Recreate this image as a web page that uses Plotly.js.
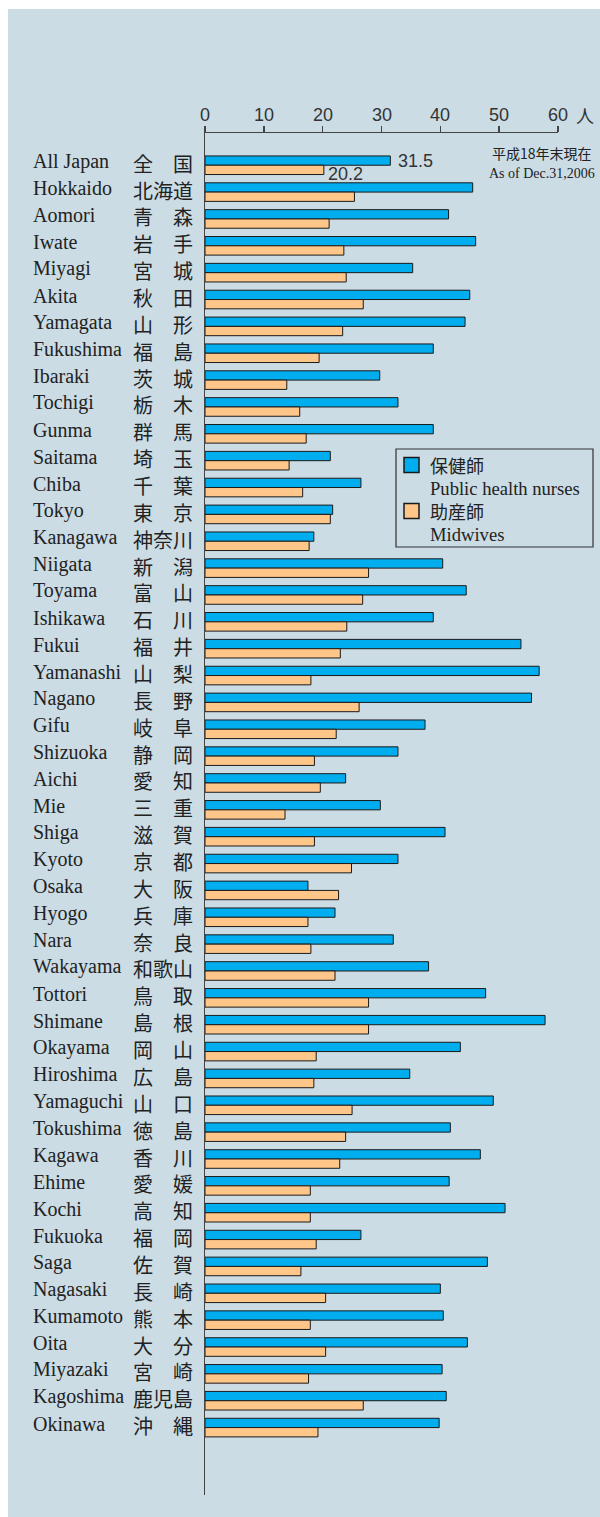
<!DOCTYPE html>
<html>
<head>
<meta charset="utf-8">
<script src="https://cdn.plot.ly/plotly-3.0.1.min.js"></script>
<style>
body { margin: 0; background: #fff; }
#chart { width: 600px; height: 1517px; }
</style>
</head>
<body>
<div id="chart"></div>
<script>
var prefEn = ['All Japan', 'Hokkaido', 'Aomori', 'Iwate', 'Miyagi', 'Akita', 'Yamagata', 'Fukushima',
    'Ibaraki', 'Tochigi', 'Gunma', 'Saitama', 'Chiba', 'Tokyo', 'Kanagawa', 'Niigata', 'Toyama',
    'Ishikawa', 'Fukui', 'Yamanashi', 'Nagano', 'Gifu', 'Shizuoka', 'Aichi', 'Mie', 'Shiga', 'Kyoto',
    'Osaka', 'Hyogo', 'Nara', 'Wakayama', 'Tottori', 'Shimane', 'Okayama', 'Hiroshima', 'Yamaguchi',
    'Tokushima', 'Kagawa', 'Ehime', 'Kochi', 'Fukuoka', 'Saga', 'Nagasaki', 'Kumamoto', 'Oita',
    'Miyazaki', 'Kagoshima', 'Okinawa']
var prefJa = ['全国', '北海道', '青森', '岩手', '宮城', '秋田', '山形', '福島', '茨城', '栃木', '群馬',
    '埼玉', '千葉', '東京', '神奈川', '新潟', '富山', '石川', '福井', '山梨', '長野', '岐阜', '静岡',
    '愛知', '三重', '滋賀', '京都', '大阪', '兵庫', '奈良', '和歌山', '鳥取', '島根', '岡山', '広島',
    '山口', '徳島', '香川', '愛媛', '高知', '福岡', '佐賀', '長崎', '熊本', '大分', '宮崎', '鹿児島', '沖縄']

// 保健師 (public health nurses), per 100,000 population
var nurses = [31.5, 45.5, 41.4, 46.0, 35.3, 45.0, 44.2, 38.8, 29.7, 32.8, 38.8,
    21.3, 26.5, 21.7, 18.5, 40.4, 44.4, 38.8, 53.7, 56.8, 55.5, 37.4,
    32.8, 23.9, 29.8, 40.8, 32.8, 17.5, 22.1, 32.0, 38.0, 47.7, 57.8,
    43.4, 34.8, 49.0, 41.7, 46.8, 41.5, 51.0, 26.5, 48.0, 40.0, 40.5,
    44.6, 40.3, 41.0, 39.8]
// 助産師 (midwives)
var midwives = [20.2, 25.4, 21.1, 23.6, 24.0, 26.9, 23.4, 19.4, 13.9, 16.1, 17.2,
    14.3, 16.6, 21.3, 17.7, 27.8, 26.8, 24.1, 23.0, 18.0, 26.2, 22.3,
    18.6, 19.6, 13.6, 18.6, 24.9, 22.7, 17.5, 18.0, 22.1, 27.8, 27.8,
    18.9, 18.5, 25.0, 23.9, 22.9, 17.9, 17.9, 18.9, 16.3, 20.5, 17.9,
    20.5, 17.6, 26.9, 19.2]
var xTicks = [0, 10, 20, 30, 40, 50, 60]
var seriesJa = ['保健師', '助産師']
var seriesEn = ['Public health nurses', 'Midwives']
var seriesColor = ['#00aeef', '#ffc68a']

var W = 600, H = 1517
var L = 205, R = 42, T = 133, B = 22
var plotW = W - L - R, plotH = H - T - B
function px(p) { return (p - L) / plotW }
function py(p) { return (H - B - p) / plotH }

var serif = 'Liberation Serif, Times New Roman, serif'
var sans = 'Liberation Sans, Arial, sans-serif'
var cjk = 'Noto Sans CJK JP, sans-serif'

var barW = 0.346

var trace1 = {
    type: 'bar',
    orientation: 'h',
    name: seriesJa[0],
    y: prefEn,
    x: nurses,
    width: barW,
    offset: -barW,
    hoverinfo: 'none',
    marker: { color: seriesColor[0], line: { color: '#1a1a1a', width: 1 } }
}
var trace2 = {
    type: 'bar',
    orientation: 'h',
    name: seriesJa[1],
    y: prefEn,
    x: midwives,
    width: barW,
    offset: 0,
    hoverinfo: 'none',
    marker: { color: seriesColor[1], line: { color: '#1a1a1a', width: 1 } }
}

var annotations = []
// row labels: English + justified Japanese name
for (var i = 0; i < prefEn.length; i++) {
    annotations.push({
        xref: 'paper', yref: 'y', x: px(31), y: prefEn[i],
        xanchor: 'left', yanchor: 'middle', yshift: 4, showarrow: false,
        text: prefEn[i], font: { family: serif, size: 20, color: '#222' }
    })
    var ja = prefJa[i]
    if (ja.length == 2) ja = ja[0] + '\u3000' + ja[1]
    annotations.push({
        xref: 'paper', yref: 'y', x: px(131), y: prefEn[i],
        xanchor: 'left', yanchor: 'middle', yshift: 2, showarrow: false,
        text: ja, font: { family: cjk, size: 20, color: '#222' }
    })
}
// x tick labels (top)
xTicks.forEach(function (t) {
    annotations.push({
        xref: 'x', yref: 'paper', x: t, y: py(115), xanchor: 'center', yanchor: 'middle',
        showarrow: false, text: String(t), font: { family: sans, size: 18, color: '#333' }
    })
})
// national values
annotations.push({
    xref: 'x', yref: 'y', x: nurses[0], y: prefEn[0], xanchor: 'left', xshift: 6, yshift: 4.5,
    showarrow: false, text: nurses[0].toFixed(1), font: { family: sans, size: 18, color: '#333' }
})
annotations.push({
    xref: 'x', yref: 'y', x: midwives[0], y: prefEn[0], xanchor: 'left', xshift: 2, yshift: -9,
    showarrow: false, text: midwives[0].toFixed(1), font: { family: sans, size: 18, color: '#333' }
})
// unit and date
annotations.push({
    xref: 'paper', yref: 'paper', x: px(574), y: py(115), xanchor: 'left', yanchor: 'middle',
    showarrow: false, text: '人', font: { family: cjk, size: 18, color: '#333' }
})
annotations.push({
    xref: 'paper', yref: 'paper', x: px(594), y: py(153), xanchor: 'right', yanchor: 'middle',
    showarrow: false, text: '平成18年末現在', font: { family: cjk, size: 14, color: '#222' }
})
annotations.push({
    xref: 'paper', yref: 'paper', x: px(597), y: py(173.5), xanchor: 'right', yanchor: 'middle',
    showarrow: false, text: 'As of Dec.31,2006', font: { family: serif, size: 14, color: '#222' }
})

// legend box, drawn by hand
var shapes = [{
    type: 'rect', xref: 'paper', yref: 'paper', layer: 'below',
    x0: px(8), x1: px(601), y0: py(1520), y1: py(9),
    fillcolor: '#cbdce5', line: { width: 0 }
}, {
    type: 'rect', xref: 'paper', yref: 'paper',
    x0: px(396), x1: px(593), y0: py(547), y1: py(449),
    fillcolor: 'rgba(0,0,0,0)', line: { color: '#333', width: 1.2 }
}]
var legTop = 465, legStep = 46
for (var k = 0; k < 2; k++) {
    var cy = legTop + k * legStep
    shapes.push({
        type: 'rect', xref: 'paper', yref: 'paper',
        x0: px(404), x1: px(419), y0: py(cy + 7.5), y1: py(cy - 7.5),
        fillcolor: seriesColor[k], line: { color: '#1a1a1a', width: 1.5 }
    })
    annotations.push({
        xref: 'paper', yref: 'paper', x: px(428), y: py(cy), xanchor: 'left', yanchor: 'middle',
        showarrow: false, text: seriesJa[k], font: { family: cjk, size: 18, color: '#222' }
    })
    annotations.push({
        xref: 'paper', yref: 'paper', x: px(428), y: py(cy + 23), xanchor: 'left', yanchor: 'middle',
        showarrow: false, text: seriesEn[k], font: { family: serif, size: 18.6, color: '#222' }
    })
}

var layout = {
    width: W,
    height: H,
    margin: { l: L, r: R, t: T, b: B, pad: 0 },
    paper_bgcolor: '#ffffff',
    plot_bgcolor: 'rgba(0,0,0,0)',
    barmode: 'overlay',
    showlegend: false,
    xaxis: {
        range: [0, 60], side: 'top', tickvals: xTicks, showticklabels: false,
        showline: true, linecolor: '#444', linewidth: 1.5,
        ticks: 'outside', ticklen: 6, tickwidth: 1.5, tickcolor: '#444',
        showgrid: false, zeroline: false, fixedrange: true
    },
    yaxis: {
        type: 'category', range: [49.51, -1.2],
        showticklabels: false, ticks: '',
        showline: true, linecolor: '#444', linewidth: 1.5,
        showgrid: false, zeroline: false, fixedrange: true
    },
    shapes: shapes,
    annotations: annotations
}

Plotly.newPlot('chart', [trace1, trace2], layout, { displayModeBar: false, staticPlot: true })
</script>
</body>
</html>
